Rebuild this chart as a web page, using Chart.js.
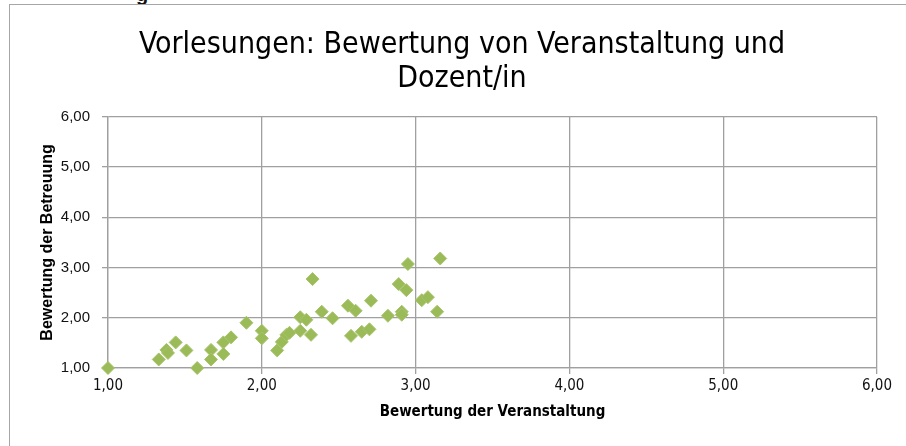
<!DOCTYPE html>
<html>
<head>
<meta charset="utf-8">
<script src="https://cdn.jsdelivr.net/npm/chart.js@4"></script>
<style>
  html, body { margin: 0; padding: 0; background: #fff; overflow: hidden; }
  #frame { position: absolute; left: 9px; top: 4px; width: 1000px; height: 1000px; border: 1px solid #a6a6a6; }
  #cut { position: absolute; left: 136px; top: -17px; font: bold 20px "Liberation Sans", Arial, sans-serif; color: #111; }
  #wrap { position: absolute; left: 0; top: 0; width: 906px; height: 446px; }
</style>
</head>
<body>
<div id="cut">g</div>
<div id="frame"></div>
<div id="wrap"><canvas id="scatterChart"></canvas></div>
<script>
// Bewertung der Veranstaltung (x) / Bewertung der Betreuung (y)
const veranstaltung = [1.00, 1.33, 1.38, 1.39, 1.44, 1.51, 1.58, 1.67, 1.67, 1.75, 1.75, 1.80, 1.90, 2.00, 2.00,
  2.10, 2.13, 2.16, 2.18, 2.25, 2.29, 2.25, 2.32, 2.33, 2.39, 2.46, 2.56, 2.61, 2.71, 2.58, 2.65, 2.70,
  2.82, 2.91, 2.91, 2.89, 2.94, 2.95, 3.04, 3.08, 3.14, 3.16];
const betreuung = [1.00, 1.17, 1.36, 1.30, 1.51, 1.35, 1.00, 1.36, 1.17, 1.51, 1.28, 1.61, 1.90, 1.74, 1.59,
  1.35, 1.52, 1.66, 1.70, 2.01, 1.96, 1.74, 1.66, 2.77, 2.12, 1.99, 2.24, 2.14, 2.34, 1.64, 1.72, 1.77,
  2.04, 2.12, 2.06, 2.67, 2.55, 3.07, 2.35, 2.41, 2.12, 3.18];
const titleLines = ["Vorlesungen: Bewertung von Veranstaltung und", "Dozent/in"];
const xTitle = "Bewertung der Veranstaltung";
const yTitle = "Bewertung der Betreuung";

const points = veranstaltung.map((v, i) => ({ x: v, y: betreuung[i] }));

const narrow = "'Liberation Sans Narrow', 'DejaVu Sans Condensed', 'Roboto', sans-serif";
const plain = "'Liberation Sans', Arial, sans-serif";
const gridColor = "#a0a0a0";
const fmt = v => v.toFixed(2).replace(".", ",");

new Chart(document.getElementById("scatterChart"), {
  type: "scatter",
  data: {
    datasets: [{
      data: points,
      clip: false,
      pointStyle: "rectRot",
      pointRadius: 6.5,
      backgroundColor: "#9bbb59",
      borderColor: "#a5c46a",
      borderWidth: 1
    }]
  },
  options: {
    responsive: true,
    maintainAspectRatio: false,
    animation: false,
    // left padding wider so the chart title sits a bit right of centre, like the original
    layout: { padding: { left: 47, right: 29, top: 0, bottom: 10 } },
    plugins: {
      legend: { display: false },
      tooltip: { enabled: false },
      title: {
        display: true,
        text: titleLines,
        color: "#000",
        font: { family: narrow, size: 30, weight: "normal", lineHeight: 1.13 },
        padding: { top: 28, bottom: 21 }
      }
    },
    scales: {
      x: {
        type: "linear",
        min: 1, max: 6,
        afterFit: s => { s.height = 68; },
        ticks: { stepSize: 1, callback: fmt, color: "#111", padding: 3, font: { family: narrow, size: 15 } },
        grid: { color: gridColor, lineWidth: 1.3, tickLength: 6 },
        border: { color: gridColor, width: 1.3 },
        title: {
          display: true, text: xTitle, color: "#000",
          font: { family: narrow, size: 15, weight: "bold" },
          padding: { top: 0, bottom: 15 }
        }
      },
      y: {
        type: "linear",
        min: 1, max: 6,
        afterFit: s => { s.width = 61; },
        ticks: { stepSize: 1, callback: fmt, color: "#111", padding: 12, font: { family: plain, size: 15 } },
        grid: { color: gridColor, lineWidth: 1.3, tickLength: 6 },
        border: { color: gridColor, width: 1.3 },
        title: {
          display: true, text: yTitle, color: "#000",
          font: { family: plain, size: 16, weight: "bold" },
          padding: { top: -9, bottom: 0 }
        }
      }
    }
  }
});
</script>
</body>
</html>
